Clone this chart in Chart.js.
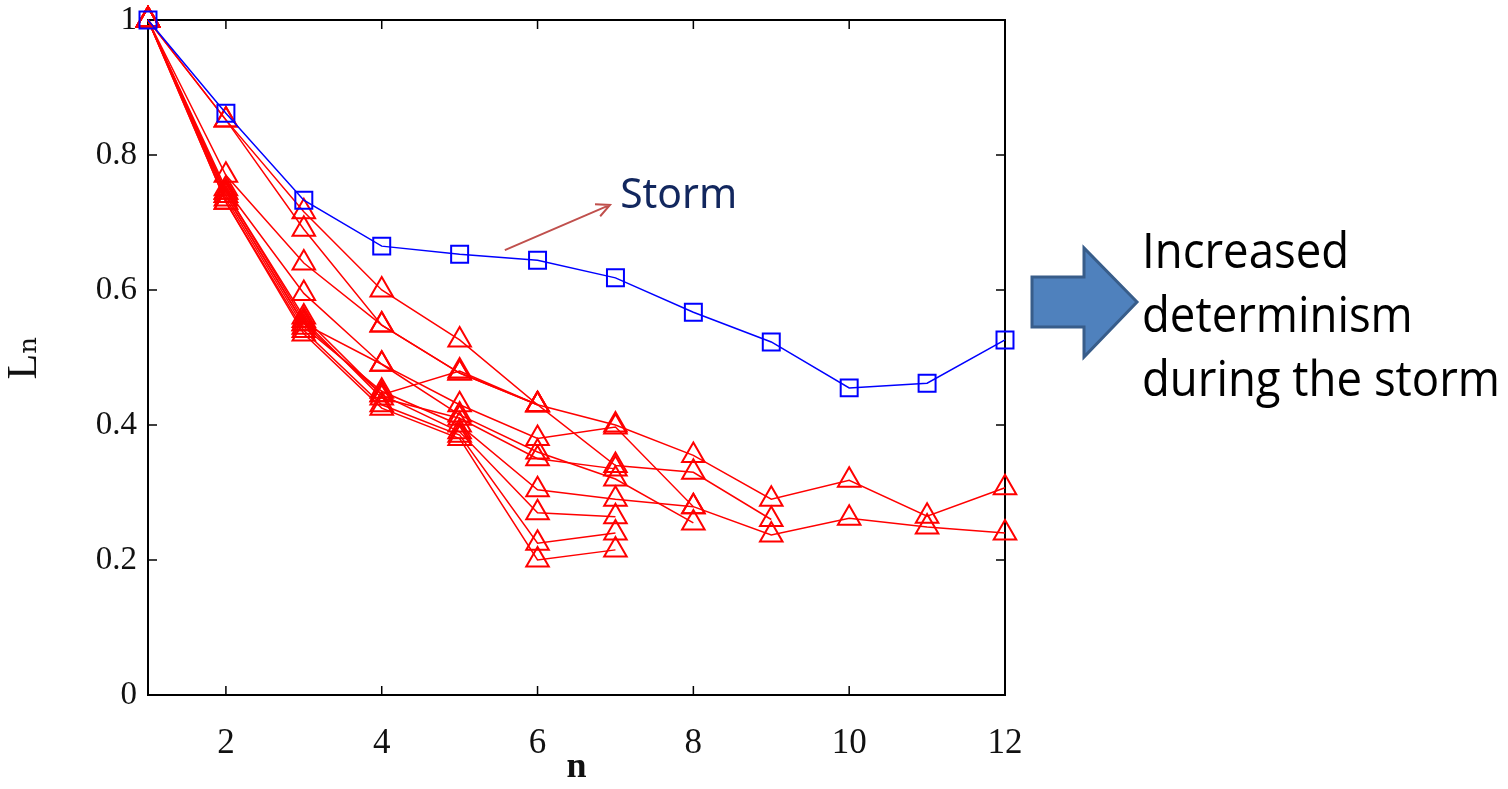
<!DOCTYPE html>
<html>
<head>
<meta charset="utf-8">
<script src="https://cdn.jsdelivr.net/npm/chart.js@4.4.1/dist/chart.umd.min.js"></script>
<style>
  body { margin: 0; background: #fff; }
  #wrap { width: 1508px; height: 789px; position: relative; }
</style>
</head>
<body>
<div id="wrap"><canvas id="grafico"></canvas></div>
<script>
// valores
const n = [1, 2, 3, 4, 5, 6, 7, 8, 9, 10, 11, 12];
const xTicks = [2, 4, 6, 8, 10, 12];
const yTicks = [0, 0.2, 0.4, 0.6, 0.8, 1];

const storm = [1, 0.862, 0.733, 0.665, 0.653, 0.644, 0.618, 0.567, 0.523, 0.455, 0.462, 0.526];

const quiet1 = [1, 0.852, 0.716, 0.600, 0.526, 0.430, 0.400, 0.355, 0.290, 0.318, 0.265, 0.307];
const quiet2 = [1, 0.852, 0.690, 0.548, 0.477, 0.430, 0.340, 0.330, 0.260];
const quiet3 = [1, 0.770, 0.640, 0.548, 0.477, 0.430];
const quiet4 = [1, 0.750, 0.595, 0.490, 0.430, 0.380, 0.397, 0.279, 0.237, 0.262, 0.249, 0.240];
const quiet5 = [1, 0.745, 0.560, 0.445, 0.480, 0.430];
const quiet6 = [1, 0.740, 0.550, 0.490, 0.415, 0.360, 0.320, 0.255];
const quiet7 = [1, 0.735, 0.545, 0.450, 0.400, 0.304, 0.290, 0.279];
const quiet8 = [1, 0.740, 0.550, 0.445, 0.390, 0.270, 0.264];
const quiet9 = [1, 0.730, 0.540, 0.430, 0.385, 0.225, 0.240];
const quiet10 = [1, 0.730, 0.535, 0.425, 0.380, 0.200, 0.215];
const quiet11 = [1, 0.745, 0.555, 0.440, 0.410, 0.350, 0.335];

const quietSeries = [quiet1, quiet2, quiet3, quiet4, quiet5, quiet6, quiet7, quiet8, quiet9, quiet10, quiet11];

function puntos(valores) {
    return valores.map((v, i) => ({ x: n[i], y: v }));
}

const datasets = [{
    label: 'Storm',
    data: puntos(storm),
    borderColor: 'rgb(0, 0, 255)',
    borderWidth: 1.5,
    pointStyle: 'rect',
    pointRadius: 12,
    pointBorderWidth: 2,
    pointBackgroundColor: 'rgba(0,0,0,0)',
    pointBorderColor: 'rgb(0, 0, 255)',
    clip: false
}];

quietSeries.forEach((serie, k) => {
    datasets.push({
        label: 'quiet ' + (k + 1),
        data: puntos(serie),
        borderColor: 'rgb(255, 0, 0)',
        borderWidth: 1.5,
        pointStyle: 'triangle',
        pointRadius: 13,
        pointBorderWidth: 2,
        pointBackgroundColor: 'rgba(0,0,0,0)',
        pointBorderColor: 'rgb(255, 0, 0)',
        clip: false
    });
});

// marco negro con marcas hacia dentro
const marco = {
    id: 'marco',
    beforeDatasetsDraw(chart) {
        const { ctx, chartArea: a, scales } = chart;
        ctx.save();
        ctx.strokeStyle = '#000';
        ctx.lineWidth = 2;
        ctx.strokeRect(a.left, a.top, a.right - a.left, a.bottom - a.top);
        ctx.lineWidth = 1.5;
        ctx.beginPath();
        xTicks.forEach(t => {
            const px = scales.x.getPixelForValue(t);
            ctx.moveTo(px, a.bottom); ctx.lineTo(px, a.bottom - 9);
            ctx.moveTo(px, a.top); ctx.lineTo(px, a.top + 9);
        });
        yTicks.forEach(t => {
            const py = scales.y.getPixelForValue(t);
            ctx.moveTo(a.left, py); ctx.lineTo(a.left + 9, py);
            ctx.moveTo(a.right, py); ctx.lineTo(a.right - 9, py);
        });
        ctx.stroke();
        ctx.restore();
    }
};

// anotaciones: flecha "Storm" y flecha azul con texto
const notas = {
    id: 'notas',
    afterDraw(chart) {
        const { ctx, scales } = chart;
        const x0 = scales.x.getPixelForValue(5.58), y0 = scales.y.getPixelForValue(0.659);
        const x1 = scales.x.getPixelForValue(6.93), y1 = scales.y.getPixelForValue(0.726);
        ctx.save();
        ctx.strokeStyle = '#C0504D';
        ctx.lineWidth = 2;
        ctx.beginPath();
        ctx.moveTo(x0, y0);
        ctx.lineTo(x1, y1);
        const ang = Math.atan2(y1 - y0, x1 - x0);
        ctx.moveTo(x1 - 15 * Math.cos(ang - 0.45), y1 - 15 * Math.sin(ang - 0.45));
        ctx.lineTo(x1, y1);
        ctx.lineTo(x1 - 15 * Math.cos(ang + 0.45), y1 - 15 * Math.sin(ang + 0.45));
        ctx.stroke();

        ctx.fillStyle = '#12275E';
        ctx.font = '41px "Noto Sans"';
        ctx.textBaseline = 'alphabetic';
        const sx = scales.x.getPixelForValue(7.06), sy = scales.y.getPixelForValue(0.722);
        const ks = Math.min(1, 117 / ctx.measureText('Storm').width);
        ctx.save();
        ctx.translate(sx, sy);
        ctx.scale(ks, 1);
        ctx.fillText('Storm', 0, 0);
        ctx.restore();

        // flecha azul grande
        ctx.beginPath();
        ctx.moveTo(1032, 277);
        ctx.lineTo(1084, 277);
        ctx.lineTo(1084, 248);
        ctx.lineTo(1137, 302);
        ctx.lineTo(1084, 357);
        ctx.lineTo(1084, 327);
        ctx.lineTo(1032, 327);
        ctx.closePath();
        ctx.fillStyle = '#4F81BD';
        ctx.fill();
        ctx.strokeStyle = '#385D8A';
        ctx.lineWidth = 3;
        ctx.stroke();

        ctx.fillStyle = '#000';
        ctx.font = '50px "Open Sans"';
        const lineas = ['Increased', 'determinism', 'during the storm'];
        const bases = [268, 332, 396];
        const ancho = ctx.measureText('during the storm').width;
        const k = Math.min(1, 358 / ancho);
        lineas.forEach((t, i) => {
            ctx.save();
            ctx.translate(1142, bases[i]);
            ctx.scale(k, 1);
            ctx.fillText(t, 0, 0);
            ctx.restore();
        });
        ctx.restore();
    }
};

const ctx = document.getElementById('grafico').getContext('2d');
window.chart = new Chart(ctx, {
    type: 'line',
    data: { datasets: datasets },
    options: {
        responsive: true,
        maintainAspectRatio: false,
        animation: false,
        layout: { padding: { left: 0, top: 20, right: 503, bottom: 0 } },
        plugins: {
            legend: { display: false },
            tooltip: { enabled: false }
        },
        scales: {
            x: {
                type: 'linear',
                min: 1,
                max: 12,
                afterBuildTicks: s => { s.ticks = xTicks.map(v => ({ value: v })); },
                afterFit: s => { s.height = 94; s.paddingLeft = 0; s.paddingRight = 0; },
                grid: { display: false, drawTicks: false },
                border: { display: false },
                ticks: {
                    padding: 28,
                    color: '#111',
                    font: { family: 'Liberation Serif', size: 35 },
                    callback: v => String(v)
                },
                title: {
                    display: true,
                    text: 'n',
                    color: '#111',
                    padding: { top: 0, bottom: 0 },
                    font: { family: 'Liberation Serif', size: 36, weight: 'bold' }
                }
            },
            y: {
                min: 0,
                max: 1,
                afterBuildTicks: s => { s.ticks = yTicks.map(v => ({ value: v })); },
                afterFit: s => { s.width = 148; s.paddingTop = 0; s.paddingBottom = 0; },
                grid: { display: false, drawTicks: false },
                border: { display: false },
                ticks: {
                    padding: 11,
                    color: '#111',
                    font: { family: 'Liberation Serif', size: 33 },
                    callback: v => (v === 0 || v === 1) ? String(v) : v.toFixed(1)
                },
                title: {
                    display: true,
                    text: 'Lₙ',
                    color: '#111',
                    padding: { top: 0, bottom: 0 },
                    font: { family: 'Liberation Serif, DejaVu Serif', size: 42 }
                }
            }
        }
    },
    plugins: [marco, notas]
});
</script>
</body>
</html>
